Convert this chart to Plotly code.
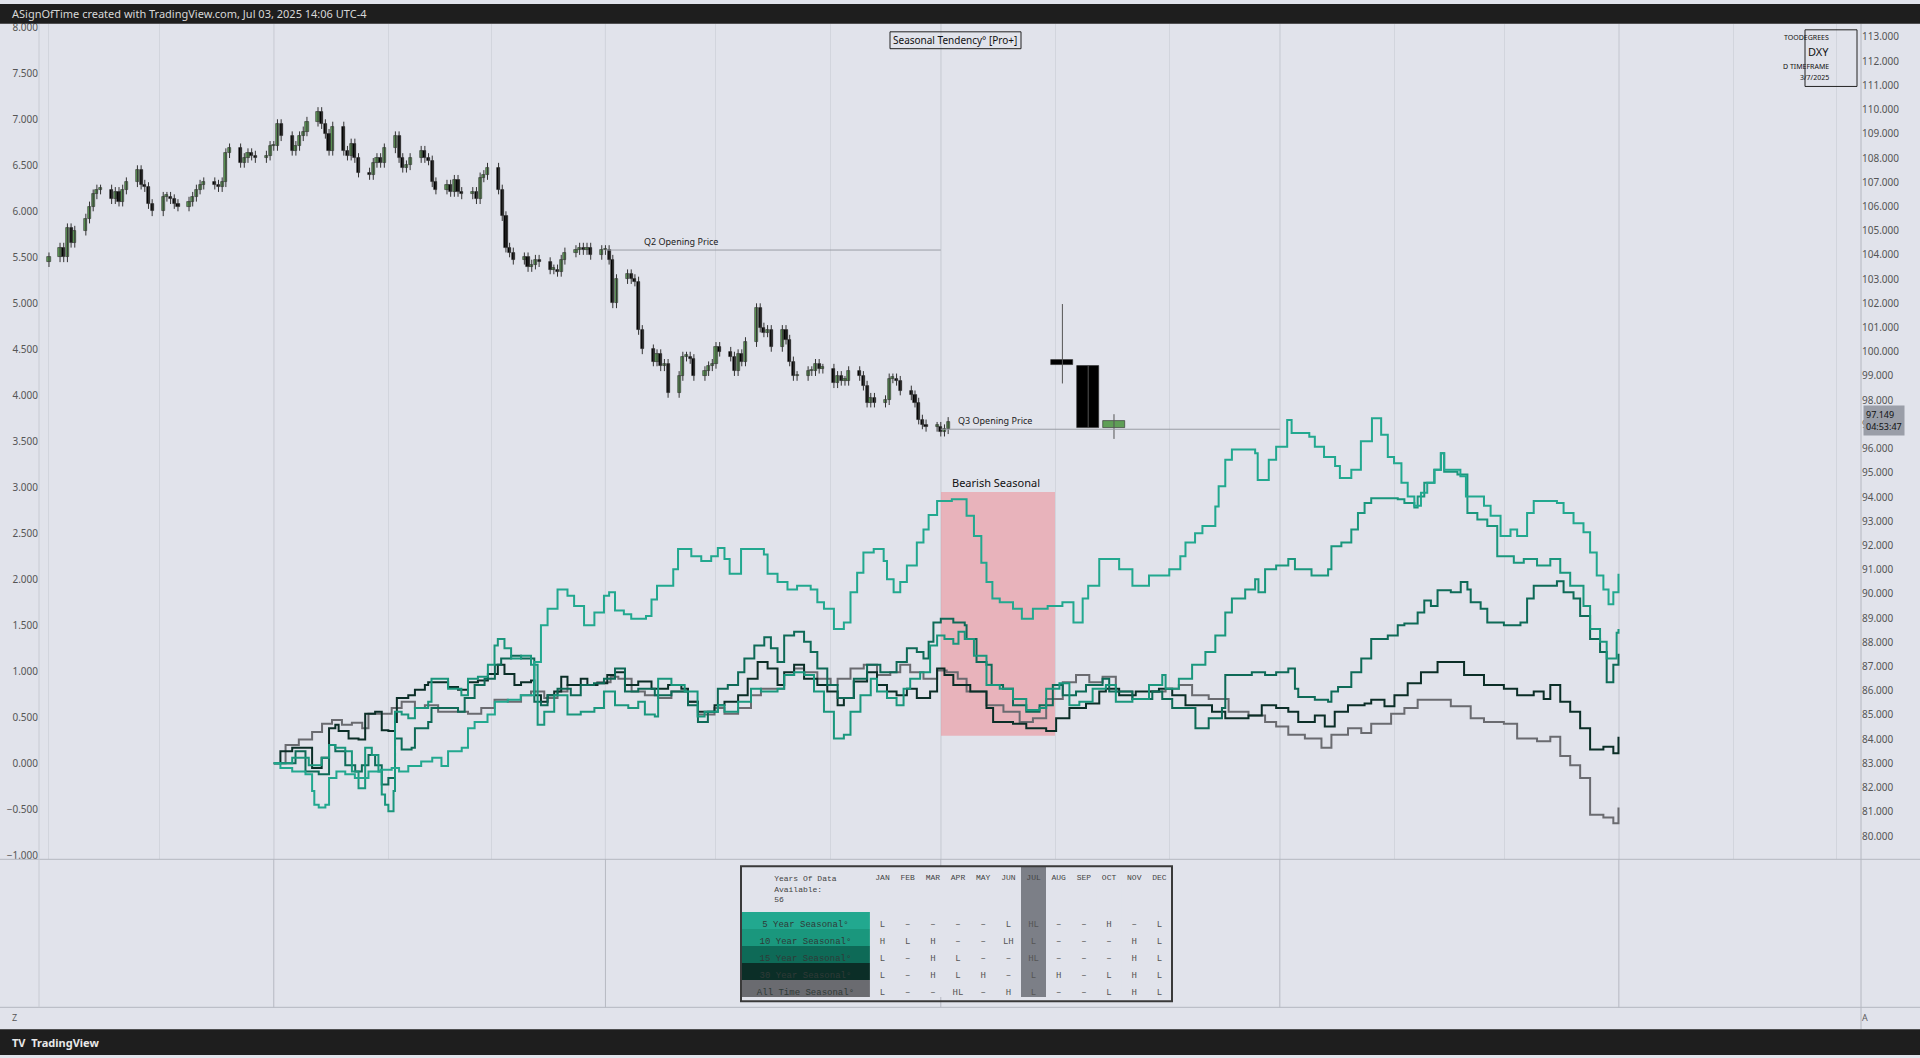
""" DXY seasonal tendency chart, TradingView style """
import pandas as pd
import plotly.graph_objects as go

# ---------------- data ----------------
# daily DXY closes, business days from 2024-11-01
closes = [
    103.9, 104.3, 103.9, 105.1, 104.5, 105.0, 105.5, 106.0, 106.5, 106.7, 106.7, 106.3, 106.6, 106.2, 106.7, 107.0, 107.5, 106.9, 106.8, 106.1, 105.8,
    106.4, 106.4, 106.3, 106.1, 106.0, 106.2, 106.4, 106.7, 106.9, 107.0, 106.9, 106.8, 107.0, 108.2, 108.4, 107.8, 108.0, 108.2, 108.1, 108.0, 108.1, 108.5,
    108.5, 109.4, 108.9, 108.3, 108.5, 108.9, 109.1, 109.5, 109.9, 109.4, 109.0, 108.3, 109.3, 108.3, 108.1, 108.6, 108.0, 107.4, 107.3, 107.8, 108.0, 107.8, 108.4,
    108.9, 108.0, 107.6, 107.7, 108.0, 108.3, 108.0, 107.9, 107.0, 106.7, 106.9, 106.6, 107.1, 106.6, 106.5, 106.6, 106.3, 107.2, 107.3, 107.6,
    106.7, 105.6, 104.3, 104.1, 103.8, 103.9, 103.5, 103.6, 103.8, 103.7, 103.4, 103.4, 103.3, 103.8, 104.1, 104.2, 104.3, 104.2, 104.3, 104.0, 104.2,
    104.2, 103.8, 102.0, 103.0, 103.2, 103.0, 102.9, 100.9, 100.1, 99.6, 99.9, 99.4, 99.5, 98.3, 99.0, 99.8, 99.8, 99.7, 99.0, 99.2, 99.4, 99.5,
    100.2, 100.0, 99.8, 99.2, 99.9, 99.6, 100.4, 101.8, 101.0, 100.8, 100.9, 100.2, 100.9, 100.5, 99.6, 99.0, 99.0, 99.2, 99.2, 99.5, 99.3, 99.3,
    98.7, 99.0, 98.8, 98.8, 99.2, 99.0, 98.6, 97.9, 98.1, 97.9, 98.0, 98.9, 98.9, 98.8, 98.4, 98.2, 97.9, 97.2, 97.0, 96.9, 96.9,
    96.7, 96.8, 97.1,
]

# higher timeframe candles drawn to the right
htf_dates = ["2025-08-03", "2025-08-10", "2025-08-17"]
htf_open = [99.68, 99.43, 96.85]
htf_high = [101.97, 99.43, 97.42]
htf_low = [98.69, 96.85, 96.4]
htf_close = [99.47, 96.85, 97.13]

q2_open = 104.2
q3_open = 96.8
last_price = 97.149

# seasonal curves: (day offset from 2025-01-01, cumulative %)
s5 = [(0, 0), (1.8, -0.05), (5, -0.09), (8.6, -0.12), (10.4, -0.3), (11, -0.45), (12.2, -0.48), (14, -0.45), (15, -0.16), (17, -0.09), (19.4, -0.12), (22, -0.16), (25.7, -0.09), (29, -0.07), (32, -0.05), (34, -0.09), (36.5, -0.03), (40, 0.02), (43, 0.06), (45.5, -0.03), (47.3, 0.13), (51, 0.17), (52.7, 0.38), (54.5, 0.45), (58, 0.53), (60, 0.67), (63.5, 0.69), (67, 0.74), (70.7, 1.1), (72.5, 1.5), (74.3, 1.68), (77, 1.89), (79.7, 1.82), (81.5, 1.71), (84.2, 1.5), (87, 1.64), (89.6, 1.82), (91, 1.86), (92.6, 1.66), (95, 1.62), (97, 1.57), (101, 1.6), (102.5, 1.78), (104, 1.93), (107, 1.93), (108.4, 2.11), (109.7, 2.33), (113.3, 2.25), (116, 2.2), (118.7, 2.25), (120.5, 2.34), (122.3, 2.22), (123.7, 2.06), (125.5, 2.06), (126.8, 2.33), (130.4, 2.33), (133, 2.27), (134, 2.06), (136.7, 1.97), (139.4, 1.89), (142, 1.93), (145.7, 1.89), (147.5, 1.75), (149.3, 1.68), (152, 1.46), (154.7, 1.53), (156.5, 1.86), (158.3, 2.07), (160, 2.29), (162.8, 2.33), (165.5, 2.2), (166.4, 2.0), (168.2, 1.86), (170, 1.97), (171.8, 2.15), (174.5, 2.4), (176.3, 2.54), (177.7, 2.7), (180, 2.85), (184, 2.87), (187.5, 2.87), (188, 2.69), (190, 2.47), (192, 2.18), (193.4, 1.97), (195, 1.79), (197, 1.75), (200.6, 1.68), (203, 1.57), (206, 1.68), (210, 1.71), (214, 1.75), (217, 1.53), (219.5, 1.79), (221, 1.93), (224, 2.22), (228, 2.22), (229.4, 2.11), (233, 1.93), (237.5, 2.04), (243, 2.11), (246, 2.25), (247.4, 2.4), (250, 2.5), (252, 2.58), (255.5, 2.79), (256.4, 3.01), (258.2, 3.3), (260, 3.41), (263.6, 3.41), (266.3, 3.37), (267, 3.08), (269, 3.08), (270, 3.3), (272, 3.44), (275, 3.73), (276.2, 3.59), (281, 3.55), (282.5, 3.44), (285, 3.33), (288, 3.23), (289.3, 3.1), (292.4, 3.19), (295, 3.5), (298, 3.75), (300.5, 3.57), (302.3, 3.33), (304, 3.26), (306, 3.05), (307.7, 2.9), (309.5, 2.8), (311.3, 2.94), (313, 3.05), (315, 3.19), (316.7, 3.37), (317.6, 3.19), (322, 3.12), (323.5, 2.9), (326.6, 2.9), (328.4, 2.8), (330.2, 2.69), (332.9, 2.47), (335.6, 2.54), (337.4, 2.47), (340.1, 2.72), (341.9, 2.85), (348.2, 2.83), (350, 2.72), (352.7, 2.61), (355.4, 2.51), (357.2, 2.29), (359, 2.04), (360.8, 1.89), (362.2, 1.73), (363.5, 1.86), (364.9, 2.06)]
s10 = [(0, 0), (5, 0.06), (9.5, -0.02), (13, 0.06), (15, 0.2), (16.7, 0.17), (19.4, 0.13), (21.2, -0.09), (23, -0.27), (24.8, 0.17), (26.6, 0.09), (28.4, -0.09), (29.3, -0.34), (30.2, -0.45), (31.1, -0.52), (32.5, -0.3), (32.9, 0.56), (34.7, 0.53), (36.5, 0.49), (38.3, 0.6), (41.9, 0.67), (42.8, 0.92), (47.3, 0.81), (50.9, 0.74), (52.7, 0.92), (55.4, 0.94), (58.1, 1.07), (59.9, 1.28), (60.8, 1.35), (62.6, 1.25), (64.4, 1.14), (67.1, 1.17), (69.8, 1.07), (71.6, 0.42), (73.4, 0.56), (76.1, 0.74), (79.7, 0.53), (83.3, 0.56), (87, 0.6), (89.6, 0.78), (92.6, 0.63), (96.2, 0.6), (98.9, 0.67), (100.7, 0.53), (103.4, 0.51), (104.3, 0.92), (107.9, 0.85), (111.5, 0.78), (115, 0.51), (116.9, 0.56), (120.5, 0.63), (122.3, 0.56), (126, 0.67), (129.5, 0.81), (132.2, 0.78), (136.7, 0.81), (138.5, 0.96), (141.2, 0.99), (144, 0.96), (146.6, 0.78), (149.3, 0.56), (152, 0.27), (154.7, 0.31), (156.5, 0.56), (159.2, 0.74), (162, 0.92), (163.7, 0.78), (166.4, 0.71), (169, 0.63), (170.9, 0.81), (172.7, 0.92), (175.4, 0.99), (178.1, 1.28), (180, 1.39), (182, 1.35), (184.4, 1.3), (185.8, 1.43), (187.5, 1.35), (190, 1.17), (193.4, 0.85), (197, 0.81), (200.6, 0.7), (204.2, 0.58), (207.8, 0.6), (209.6, 0.81), (213.2, 0.87), (215.9, 0.63), (218.6, 0.67), (222.2, 0.81), (225.8, 0.85), (228.5, 0.67), (233, 0.7), (237.5, 0.85), (241.1, 0.96), (242, 0.81), (245.6, 0.92), (249.2, 1.07), (252.8, 1.21), (255.5, 1.39), (258.2, 1.64), (260, 1.79), (263.6, 1.89), (266.3, 2.0), (267.2, 1.86), (269, 2.11), (272, 2.15), (275.3, 2.22), (277.1, 2.11), (281.6, 2.04), (286.1, 2.11), (287, 2.36), (289.7, 2.4), (292.4, 2.54), (294.2, 2.72), (296, 2.83), (297.8, 2.88), (305, 2.87), (306.8, 2.83), (309.5, 2.78), (310.4, 2.9), (312.2, 3.05), (314.9, 3.19), (316.7, 3.37), (317.6, 3.17), (321.2, 3.14), (323.9, 2.72), (326.6, 2.65), (329.3, 2.58), (332, 2.25), (336.5, 2.18), (339.2, 2.22), (342.8, 2.15), (346.4, 2.22), (349.1, 2.07), (351.8, 1.93), (355.4, 1.71), (357.2, 1.46), (359.9, 1.32), (361.7, 1.14), (364.4, 1.42), (364.9, 1.46)]
s15 = [(0, 0), (5.9, 0.13), (8.6, -0.09), (12.2, -0.12), (15, 0.2), (16.7, 0.13), (19.4, -0.02), (22.1, -0.09), (23.9, -0.02), (25.7, 0.09), (27.5, -0.02), (29.3, -0.23), (31.1, -0.16), (32.9, 0.27), (34.7, 0.15), (37.4, 0.17), (38.3, 0.38), (41.9, 0.45), (42.8, 0.6), (50, 0.56), (51.8, 0.71), (54.5, 0.85), (57.2, 0.92), (60, 1.07), (61.7, 1.14), (64.4, 1.17), (67.1, 1.14), (69.8, 1.14), (70.7, 0.67), (72.5, 0.63), (74.3, 0.74), (77, 0.81), (80.6, 0.74), (83.3, 0.85), (86.9, 0.87), (89.6, 0.92), (92.6, 1.03), (95.3, 0.78), (98.9, 0.81), (103.4, 0.74), (107.9, 0.78), (112.4, 0.63), (115.1, 0.45), (117.8, 0.56), (120.5, 0.81), (123.2, 0.85), (126, 0.99), (127.7, 1.14), (130.4, 1.28), (133.1, 1.37), (134.9, 1.25), (136.7, 1.1), (138.5, 1.39), (141.2, 1.43), (143.9, 1.32), (145.7, 1.21), (147.5, 1.03), (150.2, 0.85), (153, 0.71), (157.4, 0.92), (161, 1.07), (164.6, 0.99), (169, 1.1), (171.8, 1.25), (174.5, 1.21), (176.3, 1.14), (177.7, 1.32), (179, 1.53), (181, 1.57), (184.4, 1.53), (187.5, 1.5), (188, 1.35), (190.7, 1.1), (193.4, 1.07), (194.8, 0.85), (197.9, 0.81), (200.6, 0.63), (204.2, 0.56), (207.8, 0.63), (211.4, 0.85), (214.1, 0.74), (217.7, 0.78), (220.4, 0.85), (224.9, 0.92), (226.7, 0.78), (233, 0.7), (238.4, 0.78), (241.1, 0.7), (243.8, 0.6), (250.1, 0.38), (253.7, 0.49), (257.3, 0.6), (258.2, 0.96), (265.4, 0.99), (269, 0.96), (272, 0.99), (275.3, 1.03), (277.1, 0.81), (278, 0.72), (282.5, 0.69), (286.1, 0.67), (287, 0.78), (288.8, 0.83), (292.4, 0.99), (295.1, 1.14), (297.8, 1.35), (302.3, 1.39), (305, 1.5), (306.8, 1.52), (310.4, 1.64), (312.2, 1.77), (314, 1.71), (315.8, 1.88), (319.4, 1.86), (322.1, 1.97), (323.9, 1.89), (324.8, 1.75), (327.5, 1.68), (329.3, 1.53), (333.8, 1.5), (338.3, 1.53), (340.1, 1.79), (341.9, 1.93), (348.2, 1.98), (350, 1.86), (352.7, 1.79), (354.5, 1.6), (357.2, 1.35), (359.9, 1.21), (361.7, 0.88), (363.5, 1.07), (364.9, 1.19)]
s30 = [(0, 0), (1.8, 0.13), (5, 0.17), (8.6, 0.17), (10.4, -0.05), (13, 0.06), (15, 0.38), (16.7, 0.42), (17.6, 0.35), (20.3, 0.27), (23, 0.26), (24.8, 0.54), (27.5, 0.56), (29.3, 0.36), (31.1, 0.35), (32.9, 0.45), (33.4, 0.71), (36.5, 0.74), (38.3, 0.8), (41, 0.85), (41.9, 0.88), (43.7, 0.88), (47.3, 0.83), (50, 0.8), (52.7, 0.88), (55.4, 0.9), (58.1, 0.97), (60.8, 1.07), (62.6, 0.97), (65.3, 0.85), (67.1, 0.88), (69.8, 0.9), (70.7, 0.74), (72.5, 0.67), (74.3, 0.74), (76.1, 0.78), (78, 0.94), (79.7, 0.85), (83.3, 0.92), (85.1, 0.85), (87.8, 0.87), (90.5, 0.96), (92.6, 0.99), (95.3, 0.85), (98.9, 0.89), (102.5, 0.81), (107, 0.85), (110.6, 0.81), (112.4, 0.67), (115.1, 0.56), (119.6, 0.63), (122.3, 0.67), (126, 0.74), (128.6, 0.92), (131.3, 1.1), (134, 1.03), (136.7, 0.85), (138.5, 0.99), (141.2, 1.07), (143.9, 0.92), (147.5, 0.85), (150.2, 0.78), (153, 0.63), (154.7, 0.71), (157.4, 0.89), (161, 0.99), (163.7, 0.85), (166.4, 0.78), (169, 0.74), (171.8, 0.81), (174.5, 0.71), (178.1, 0.78), (180, 1.03), (182, 0.96), (184.4, 0.85), (189, 0.78), (193.4, 0.6), (195.2, 0.45), (200.6, 0.43), (204.2, 0.38), (209.6, 0.35), (212.3, 0.49), (215.9, 0.6), (220.4, 0.65), (224, 0.78), (225.8, 0.81), (229.4, 0.74), (233.9, 0.78), (240.2, 0.81), (243.8, 0.74), (247.4, 0.63), (254.6, 0.56), (258.2, 0.49), (264.5, 0.52), (268.1, 0.63), (272, 0.6), (275.3, 0.56), (278, 0.45), (282.5, 0.52), (285.2, 0.4), (287.9, 0.56), (291.5, 0.63), (296, 0.65), (297.8, 0.69), (301.4, 0.62), (304.1, 0.74), (307.7, 0.87), (311.3, 0.99), (315.8, 1.1), (318.5, 1.1), (323, 0.96), (328.4, 0.85), (333.8, 0.81), (337.4, 0.74), (341.9, 0.78), (344.6, 0.7), (346.4, 0.85), (349.1, 0.67), (351.8, 0.56), (354.5, 0.38), (357.2, 0.15), (360.8, 0.18), (363.5, 0.11), (364.9, 0.29)]
s_all = [(0, 0), (3.2, 0.2), (6.8, 0.26), (10.4, 0.34), (13.1, 0.43), (15.8, 0.47), (18.5, 0.42), (21.2, 0.44), (24, 0.38), (25.7, 0.54), (29.3, 0.54), (32, 0.6), (34.7, 0.67), (38.3, 0.6), (41, 0.63), (44.6, 0.56), (48.2, 0.56), (52.7, 0.54), (56.3, 0.6), (59.9, 0.69), (63.5, 0.67), (67.1, 0.74), (69.8, 0.78), (73.4, 0.71), (77, 0.78), (79.7, 0.85), (87.8, 0.88), (91.4, 0.94), (93.5, 0.92), (97.1, 0.78), (100.7, 0.74), (104.3, 0.71), (107.9, 0.78), (112.4, 0.67), (115.1, 0.53), (119.6, 0.6), (122.3, 0.54), (126, 0.6), (129.5, 0.74), (132.2, 0.81), (136.7, 0.81), (138.5, 0.96), (141.2, 1.03), (143.9, 0.99), (147.5, 0.92), (151.1, 0.85), (153, 0.92), (156.5, 1.03), (160.1, 1.07), (163.7, 0.96), (167.3, 0.99), (170, 1.07), (172.7, 0.99), (176.3, 0.92), (180, 1.01), (182.6, 0.99), (185.6, 0.92), (188, 0.78), (193.4, 0.63), (198, 0.56), (202.4, 0.45), (206, 0.49), (209.6, 0.7), (214.1, 0.88), (217.7, 0.96), (221.3, 0.88), (224.9, 0.94), (228.5, 0.78), (233, 0.7), (237.5, 0.78), (242, 0.81), (245.6, 0.85), (249.2, 0.74), (253.7, 0.7), (259.1, 0.56), (264.5, 0.52), (269, 0.45), (272, 0.4), (275.3, 0.31), (279.8, 0.27), (284.3, 0.17), (287, 0.31), (291.5, 0.38), (295.1, 0.33), (297.8, 0.43), (303.2, 0.54), (306.8, 0.6), (310.4, 0.69), (316.7, 0.69), (319.4, 0.62), (324.8, 0.49), (328.4, 0.45), (333.8, 0.43), (337.4, 0.27), (342.8, 0.24), (346.4, 0.29), (349.1, 0.08), (351.8, -0.02), (354.5, -0.16), (357.2, -0.56), (360.8, -0.59), (363.5, -0.65), (364.9, -0.48)]

series_names = ["5 Year Seasonal°", "10 Year Seasonal°", "15 Year Seasonal°", "30 Year Seasonal°", "All Time Seasonal°"]
series_colors = ["#22a88f", "#1a977d", "#0e6a57", "#0b2e27", "#6a6b70"]

months = ["JAN", "FEB", "MAR", "APR", "MAY", "JUN", "JUL", "AUG", "SEP", "OCT", "NOV", "DEC"]
table_rows = [
    ["L", "–", "–", "–", "–", "L", "HL", "–", "–", "H", "–", "L"],
    ["H", "L", "H", "–", "–", "LH", "L", "–", "–", "–", "H", "L"],
    ["L", "–", "H", "L", "–", "–", "HL", "–", "–", "–", "H", "L"],
    ["L", "–", "H", "L", "H", "–", "L", "H", "–", "L", "H", "L"],
    ["L", "–", "–", "HL", "–", "H", "L", "–", "–", "L", "H", "L"],
]
years_available = 56

tick_dates = ["2024-11-01", "2024-12-01", "2025-01-01", "2025-02-01", "2025-03-01", "2025-04-01", "2025-05-01",
              "2025-06-01", "2025-07-01", "2025-08-01", "2025-09-01", "2025-10-01", "2025-11-01", "2025-12-01",
              "2026-01-01", "2026-02-01", "2026-03-01"]
tick_text = ["Nov", "Dec", "2025", "Feb", "Mar", "Apr", "May", "Jun", "Jul", "Aug", "Sep", "Oct", "Nov", "Dec", "2026", "Feb", "Mar"]
quarter_dates = ["2025-01-01", "2025-04-01", "2025-07-01", "2025-10-01", "2026-01-01"]

# ---------------- build ----------------
BG = "#e1e3eb"
W, H = 1920, 1058
X0, X1 = 39 / W, 1861 / W
MAIN = [1 - 861 / H, 1 - 20 / H]
LOW = [1 - 1010 / H, 1 - 861 / H]
DAY_MS = 86400000
TBL_TOP, TBL_BOT = 868, 1004

dates = pd.bdate_range("2024-11-01", periods=len(closes))
opens = [closes[0] - 0.2] + closes[:-1]
wick = 0.2
highs = [max(o, c) + wick for o, c in zip(opens, closes)]
lows = [min(o, c) - wick for o, c in zip(opens, closes)]

fig = go.Figure()

start = pd.Timestamp("2025-01-01")
for name, color, pts in zip(series_names[::-1], series_colors[::-1], [s_all, s30, s15, s10, s5]):
    fig.add_trace(go.Scatter(
        x=[start + pd.Timedelta(days=d) for d, v in pts],
        y=[v for d, v in pts],
        mode="lines", line=dict(color=color, width=2, shape="hv"),
        name=name, xaxis="x", yaxis="y", hoverinfo="skip",
    ))


def add_candles(x, o, h, l, c, width_days, wick_color):
    wx, wy = [], []
    for xi, hi, li in zip(x, h, l):
        wx += [xi, xi, None]
        wy += [li, hi, None]
    fig.add_trace(go.Scatter(x=wx, y=wy, mode="lines", line=dict(color=wick_color, width=1),
                             xaxis="x", yaxis="y2", hoverinfo="skip"))
    fig.add_trace(go.Bar(
        x=x, y=[max(abs(ci - oi), 0.06) for oi, ci in zip(o, c)], base=[min(oi, ci) for oi, ci in zip(o, c)],
        width=width_days * DAY_MS, xaxis="x", yaxis="y2", hoverinfo="skip",
        marker=dict(color=["#5f9e57" if ci >= oi else "#000000" for oi, ci in zip(o, c)],
                    line=dict(color="#2b2b2b", width=0.6)),
    ))


add_candles(dates, opens, highs, lows, closes, 0.85, "#333333")
add_candles(pd.to_datetime(htf_dates), htf_open, htf_high, htf_low, htf_close, 6, "#555555")

# seasonal table
fills = [series_colors]
for m in months:
    fills.append(["#7c7f87" if m == "JUL" else BG] * 5)
fig.add_trace(go.Table(
    domain=dict(x=[741 / W, 1172 / W], y=[1 - TBL_BOT / H, 1 - TBL_TOP / H]),
    columnwidth=[128] + [25] * 12,
    header=dict(
        values=["Years Of Data<br>Available:<br>%d" % years_available] + months,
        fill_color=[BG] + ["#7c7f87" if m == "JUL" else BG for m in months],
        line_width=0, height=38, align=["center"] * 13,
        font=dict(family="Liberation Mono", size=8, color="#444"),
    ),
    cells=dict(
        values=[series_names] + [[r[i] for r in table_rows] for i in range(12)],
        fill_color=fills, line_width=0, height=17, align="center",
        font=dict(family="Liberation Mono", size=9, color=["#2f3a37"] + ["#555"] * 12),
    ),
))

shapes = [
    dict(type="line", xref="paper", yref="paper", x0=0, x1=1, y0=LOW[1], y1=LOW[1], line=dict(color="#b4b7c0", width=1)),
    dict(type="line", xref="paper", yref="paper", x0=0, x1=1, y0=LOW[0], y1=LOW[0], line=dict(color="#b4b7c0", width=1)),
    dict(type="line", xref="paper", yref="paper", x0=X1, x1=X1, y0=26 / H, y1=MAIN[1], line=dict(color="#b4b7c0", width=1)),
    dict(type="line", xref="paper", yref="paper", x0=X0, x1=X0, y0=LOW[0], y1=MAIN[1], line=dict(color="#c8cbd3", width=1)),
    dict(type="rect", xref="x", yref="y", x0="2025-07-01", x1="2025-08-01", y0=0.30, y1=2.95,
         fillcolor="rgba(236,150,158,0.62)", line_width=0, layer="below"),
    dict(type="line", xref="x", yref="y2", x0="2025-04-01", x1="2025-07-01", y0=q2_open, y1=q2_open, line=dict(color="#9a9da5", width=1)),
    dict(type="line", xref="x", yref="y2", x0="2025-07-01", x1="2025-10-01", y0=q3_open, y1=q3_open, line=dict(color="#9a9da5", width=1)),
    dict(type="rect", xref="paper", yref="paper", x0=890 / W, x1=1021 / W, y0=1 - 45 / H, y1=1 - 28 / H, line=dict(color="#222", width=1)),
    dict(type="rect", xref="paper", yref="paper", x0=1805 / W, x1=1857 / W, y0=1 - 83 / H, y1=1 - 26 / H, line=dict(color="#222", width=1)),
    dict(type="rect", xref="paper", yref="paper", x0=741 / W, x1=1172 / W, y0=1 - TBL_BOT / H, y1=1 - TBL_TOP / H, line=dict(color="#3a3a3a", width=2)),
    dict(type="rect", xref="paper", yref="paper", x0=0, x1=1, y0=1 - 20 / H, y1=1, fillcolor="#1e1e1e", line_width=0),
    dict(type="rect", xref="paper", yref="paper", x0=0, x1=1, y0=0, y1=26 / H, fillcolor="#1e1e1e", line_width=0),
]
for q in quarter_dates:
    shapes.append(dict(type="line", xref="x", yref="paper", x0=q, x1=q, y0=LOW[0], y1=MAIN[1],
                       line=dict(color="#b6b9c2", width=1), layer="below"))

annotations = [
    dict(xref="paper", yref="paper", x=10 / W, y=1 - 10 / H, xanchor="left", yanchor="middle", showarrow=False,
         text="ASignOfTime created with TradingView.com, Jul 03, 2025 14:06 UTC-4",
         font=dict(family="Noto Sans", size=11, color="#d8d8d8")),
    dict(xref="paper", yref="paper", x=955 / W, y=1 - 36.5 / H, yanchor="middle", showarrow=False,
         text="Seasonal Tendency° [Pro+]", font=dict(family="Noto Sans", size=10, color="#111")),
    dict(xref="x", yref="y2", x="2025-04-11", y=q2_open, yanchor="bottom", xanchor="left", showarrow=False,
         text="Q2 Opening Price", font=dict(family="Noto Sans", size=9, color="#222")),
    dict(xref="x", yref="y2", x="2025-07-05", y=q3_open, yanchor="bottom", xanchor="left", showarrow=False,
         text="Q3 Opening Price", font=dict(family="Noto Sans", size=9, color="#222")),
    dict(xref="x", yref="y", x="2025-07-16", y=2.95, yanchor="bottom", showarrow=False,
         text="Bearish Seasonal", font=dict(family="Noto Sans", size=11, color="#111")),
    dict(xref="paper", yref="y2", x=1863 / W, y=last_price, xanchor="left", yanchor="middle", showarrow=False,
         text="%.3f<br>04:53:47" % last_price, bgcolor="#9a9ea8", borderpad=2, align="left",
         font=dict(family="Noto Sans", size=9, color="#111")),
    dict(xref="paper", yref="paper", x=10 / W, y=1 - 1020 / H, yanchor="middle", showarrow=False, text="Z", font=dict(size=9, color="#555")),
    dict(xref="paper", yref="paper", x=1870 / W, y=1 - 1020 / H, yanchor="middle", showarrow=False, text="A", font=dict(size=9, color="#555")),
    dict(xref="paper", yref="paper", x=10 / W, y=13 / H, xanchor="left", yanchor="middle", showarrow=False,
         text="<b>TV  TradingView</b>", font=dict(family="Noto Sans", size=11, color="#e8e8e8")),
]
# top-right info box, one line per annotation
for txt, yy, sz in [("TOODEGREES", 34, 7), ("DXY", 48, 11), ("D TIMEFRAME", 63, 7), ("3/7/2025", 74, 7)]:
    annotations.append(dict(xref="paper", yref="paper", x=1831 / W, y=1 - yy / H, yanchor="middle", showarrow=False,
                            text=txt, font=dict(family="Noto Sans", size=sz, color="#111")))

axis_font = dict(family="Noto Sans", size=10, color="#555")
fig.update_layout(
    width=W, height=H, margin=dict(l=0, r=0, t=0, b=0),
    paper_bgcolor=BG, plot_bgcolor=BG, showlegend=False, bargap=0,
    shapes=shapes, annotations=annotations,
    xaxis=dict(domain=[X0, X1], anchor="y", type="date",
               range=["2024-10-29 07:00", "2026-03-07 17:00"],
               showticklabels=False, showgrid=True, gridcolor="#d2d5dd", dtick="M1", tick0="2024-11-01",
               zeroline=False, showline=False),
    xaxis2=dict(domain=[X0, X1], anchor="y3", matches="x", type="date",
                tickvals=tick_dates, ticktext=tick_text, tickfont=axis_font, ticks="",
                showgrid=True, gridcolor="#d2d5dd", zeroline=False, showline=False),
    yaxis=dict(domain=MAIN, anchor="x", range=[-1.043, 8.036], dtick=0.5, tick0=0, tickformat=".3f",
               showgrid=False, zeroline=False, tickfont=axis_font, ticks=""),
    yaxis2=dict(overlaying="y", side="right", anchor="x", range=[79.04, 113.54], dtick=1, tickformat=".3f",
                showgrid=False, zeroline=False, tickfont=axis_font, ticks=""),
    yaxis3=dict(domain=LOW, anchor="x2", range=[-0.796, 0.654], tickvals=[0.5, 0, -0.5], tickformat=".3f",
                showgrid=False, zeroline=False, tickfont=axis_font, ticks=""),
)

fig.write_html("out.html", config={"displayModeBar": False},
               post_script="document.body.style.margin='0';")
